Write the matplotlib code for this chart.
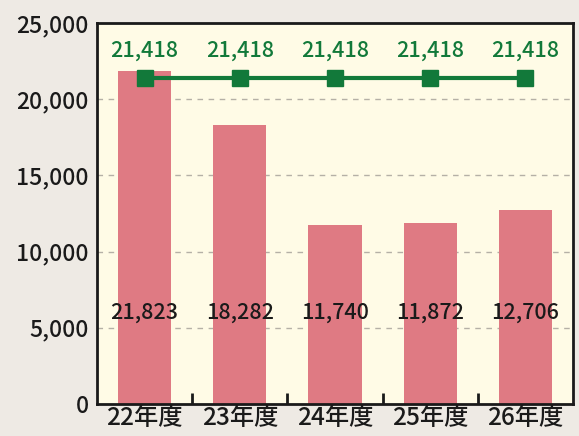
#!/usr/bin/env python3
"""Bar + line chart: 22-26年度 values vs. constant 21,418 reference line."""
import matplotlib
matplotlib.use("Agg")
import matplotlib.pyplot as plt  # noqa: E402

plt.rcParams["font.family"] = ["Noto Sans CJK JP", "DejaVu Sans"]

years = ["22年度", "23年度", "24年度", "25年度", "26年度"]
bar_values = [21823, 18282, 11740, 11872, 12706]
line_values = [21418, 21418, 21418, 21418, 21418]
y_ticks = [0, 5000, 10000, 15000, 20000, 25000]

BAR = "#df7a83"
GREEN = "#12793a"
FIG_BG = "#eeeae4"
AX_BG = "#fffbe6"
INK = "#1a1a1a"


def main():
    fig = plt.figure(figsize=(5.79, 4.36), dpi=100, facecolor=FIG_BG)
    ax = fig.add_axes([97 / 579, 1 - 404 / 436, 476 / 579, 381 / 436])
    ax.set_facecolor(AX_BG)

    x = list(range(len(years)))
    ax.bar(x, bar_values, width=0.56, color=BAR, zorder=2)
    ax.plot(x, line_values, color=GREEN, lw=3, marker="s", ms=12,
            zorder=3)

    for xi, v in zip(x, bar_values):
        ax.text(xi, 6000, f"{v:,}", ha="center", va="center", fontsize=15.5,
                color=INK, weight="medium", zorder=4)
    for xi, v in zip(x, line_values):
        ax.text(xi, 23150, f"{v:,}", ha="center", va="center", fontsize=15.5,
                color=GREEN, weight="medium", zorder=4)

    ax.set_xlim(-0.5, len(years) - 0.5)
    ax.set_ylim(0, 25000)
    ax.set_yticks(y_ticks)
    ax.set_yticklabels([f"{t:,}" for t in y_ticks], fontsize=16.5,
                       weight="medium", color=INK)
    ax.tick_params(axis="y", length=0, pad=6)
    ax.set_xticks(x)
    ax.set_xticklabels(years, fontsize=17.5, weight="medium", color=INK)
    ax.tick_params(axis="x", which="major", length=0, pad=1)
    ax.set_xticks([i + 0.5 for i in x[:-1]], minor=True)
    ax.tick_params(axis="x", which="minor", direction="in", length=8,
                   width=2, color=INK)

    for t in y_ticks[1:-1]:
        ax.axhline(t, color="#b5b0a6", lw=1, ls=(0, (4, 4)), zorder=1)

    for s in ax.spines.values():
        s.set_linewidth(2)
        s.set_color(INK)

    fig.savefig("out.png", dpi=100, facecolor=FIG_BG)


if __name__ == "__main__":
    main()
